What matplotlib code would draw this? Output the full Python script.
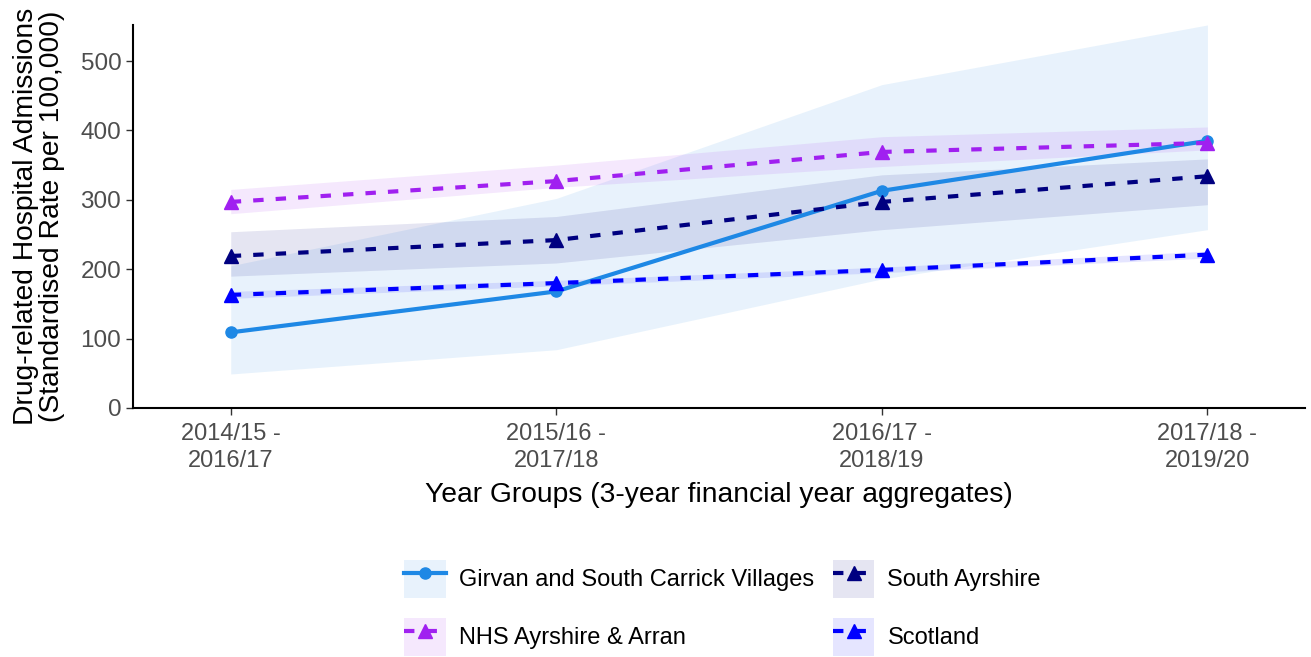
import numpy as np
import matplotlib
matplotlib.use("Agg")
from matplotlib import pyplot as plt
from matplotlib.patches import Patch
from matplotlib.legend_handler import HandlerTuple

plt.rcParams['font.family'] = ['Liberation Sans', 'DejaVu Sans']

# year groups (3-year aggregates)
year_groups = ['2014/15 -\n2016/17', '2015/16 -\n2017/18',
               '2016/17 -\n2018/19', '2017/18 -\n2019/20']

# values
girvan = [109, 168, 313, 385]
girvan_lo = [49, 84, 186, 257]
girvan_hi = [205, 302, 466, 552]

south_ayrshire = [219, 242, 297, 334]
south_ayrshire_lo = [190, 209, 257, 293]
south_ayrshire_hi = [254, 276, 336, 359]

nhs_aa = [297, 327, 369, 382]
nhs_aa_lo = [280, 318, 348, 372]
nhs_aa_hi = [315, 350, 391, 405]

scotland = [163, 180, 199, 221]
scotland_lo = [158, 176, 195, 216]
scotland_hi = [168, 184, 203, 226]

series = [
    ('Girvan and South Carrick Villages', girvan, girvan_lo, girvan_hi, '#1E88E5', '-', 'o'),
    ('NHS Ayrshire & Arran', nhs_aa, nhs_aa_lo, nhs_aa_hi, '#A020F0', '--', '^'),
    ('South Ayrshire', south_ayrshire, south_ayrshire_lo, south_ayrshire_hi, '#000080', '--', '^'),
    ('Scotland', scotland, scotland_lo, scotland_hi, '#0000FF', '--', '^'),
]

fig = plt.figure(figsize=(13.11, 6.57), dpi=100)
ax = fig.add_axes([0.1015, 0.379, 0.894, 0.583])

x = np.arange(len(year_groups))
handles = []
# confidence bands first, then lines on top
for name, vals, lo, hi, col, ls, mk in series:
    ax.fill_between(x, lo, hi, color=col, alpha=0.1, linewidth=0)
for name, vals, lo, hi, col, ls, mk in series:
    if ls == '--':
        line, = ax.plot(x, vals, color=col, linewidth=3, dashes=(2.5, 2.9),
                        marker=mk, markersize=10)
    else:
        line, = ax.plot(x, vals, color=col, linewidth=3, linestyle='-',
                        marker=mk, markersize=8)
    band = Patch(facecolor=col, alpha=0.1, edgecolor='none')
    handles.append(((band, line), name))

ax.set_xlim(-0.3, 3.3)
ax.set_ylim(0, 552)
ax.set_xticks(x)
ax.set_xticklabels(year_groups, color='#4d4d4d', fontsize=17)
ax.set_yticks([0, 100, 200, 300, 400, 500])
ax.tick_params(axis='y', labelsize=17.5, labelcolor='#4d4d4d', color='#333333', length=5, width=1)
ax.tick_params(axis='x', color='#333333', length=5, width=1, pad=6)
for t in ax.get_xticklabels():
    t.set_linespacing(1.3)

for s in ['top', 'right']:
    ax.spines[s].set_visible(False)
for s in ['left', 'bottom']:
    ax.spines[s].set_linewidth(1.5)
    ax.spines[s].set_color('black')

ax.set_xlabel('Year Groups (3-year financial year aggregates)', fontsize=20.3, labelpad=7)
ax.set_ylabel('Drug-related Hospital Admissions\n(Standardised Rate per 100,000)', fontsize=20.3,
              labelpad=11, linespacing=1.0)

fig.legend([h for h, n in handles], [n for h, n in handles],
           handler_map={tuple: HandlerTuple(ndivide=1, pad=0)},
           loc='center', bbox_to_anchor=(0.551, 0.075), ncol=2, frameon=False,
           fontsize=17, handlelength=1.77, handleheight=2.1, labelspacing=0.85,
           columnspacing=0.8, handletextpad=0.55)

fig.savefig('out.png', dpi=100)
